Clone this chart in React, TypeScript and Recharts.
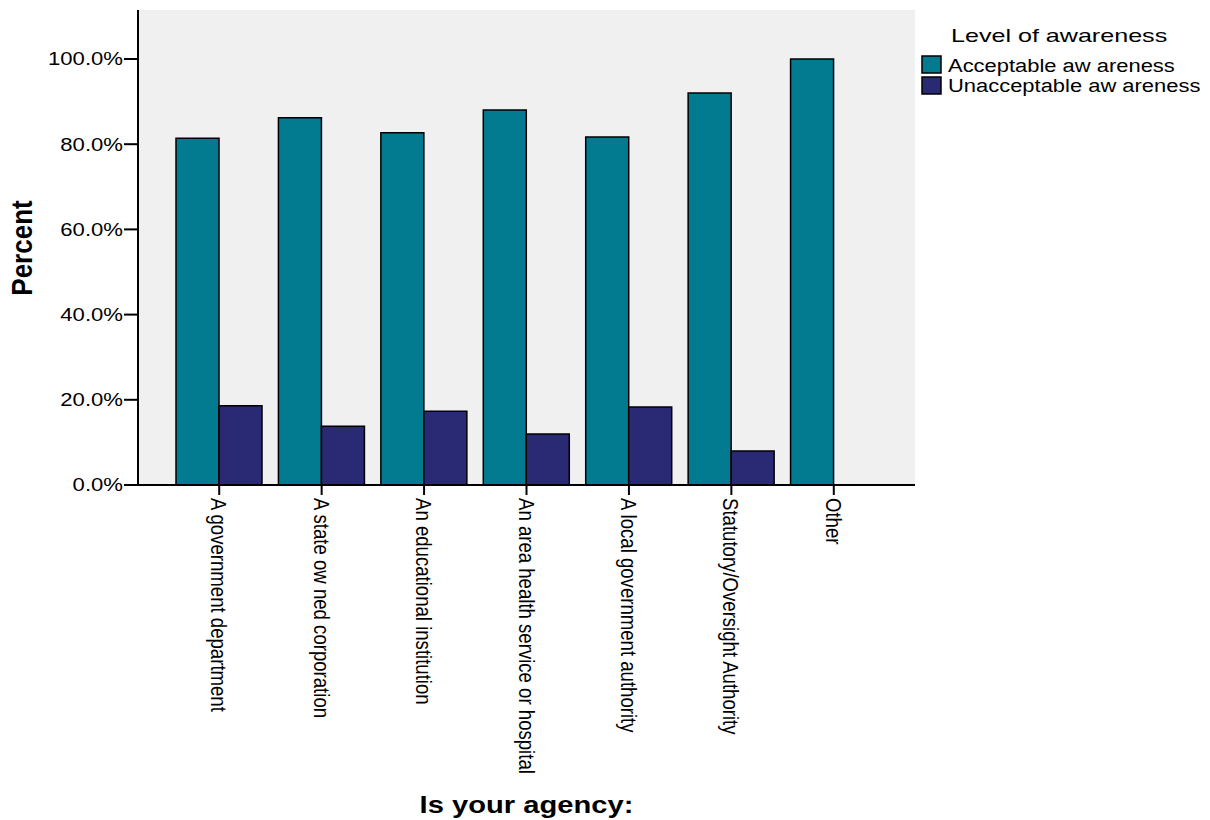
import React from 'react';
import { BarChart, Bar, XAxis, YAxis, CartesianGrid, Legend, Label } from 'recharts';

const categories = [
  'A government department',
  'A state ow ned corporation',
  'An educational institution',
  'An area health service or hospital',
  'A local government authority',
  'Statutory/Oversight Authority',
  'Other',
];
const acceptable = [81.4, 86.2, 82.7, 88.0, 81.7, 92.0, 100];
const unacceptable = [18.6, 13.8, 17.3, 12.0, 18.3, 8.0, 0];
const seriesNames = ['Acceptable aw areness', 'Unacceptable aw areness'];
const seriesColors = ['#027B91', '#2A2A74'];
const yTicks = [0, 20, 40, 60, 80, 100];
const legendTitle = 'Level of awareness';
const xTitle = 'Is your agency:';
const yTitle = 'Percent';

const data = categories.map((c, i) => ({
  category: c,
  acceptable: acceptable[i],
  unacceptable: unacceptable[i],
}));

const FONT = '"Liberation Sans", Arial, Helvetica, sans-serif';

const XTick = (props: any) => {
  const { x, payload } = props;
  return (
    <text
      transform={`translate(${x - 8},498) scale(1.18,1) rotate(90)`}
      x={0}
      y={0}
      textAnchor="start"
      fontFamily={FONT}
      fontSize={18.6}
      fill="#000"
    >
      {payload.value}
    </text>
  );
};

const YTick = (props: any) => {
  const { x, y, payload } = props;
  return (
    <text
      transform={`translate(${x},${y}) scale(1.25,1)`}
      x={0}
      y={0}
      dy="0.36em"
      textAnchor="end"
      fontFamily={FONT}
      fontSize={17.7}
      fill="#000"
    >
      {`${Number(payload.value).toFixed(1)}%`}
    </text>
  );
};

const LegendContent = (props: any) => {
  const payload = props.payload || [];
  const items = seriesNames.map((n, i) => {
    const p = payload.find((q: any) => q.value === n);
    return { name: n, color: p ? p.color : seriesColors[i] };
  });
  return (
    <svg width={1210} height={110} style={{ position: 'absolute', left: 0, top: 0 }}>
      <text
        transform="translate(951,41.7) scale(1.35,1)"
        fontFamily={FONT}
        fontSize={18.6}
        fill="#000"
      >
        {legendTitle}
      </text>
      {items.map((it, i) => (
        <g key={it.name}>
          <rect
            x={922}
            y={56 + i * 21}
            width={19}
            height={17}
            fill={it.color}
            stroke="#000"
            strokeWidth={1.5}
          />
          <text
            transform={`translate(948,${71.7 + i * 20.6}) scale(1.18,1)`}
            fontFamily={FONT}
            fontSize={18.6}
            fill="#000"
          >
            {it.name}
          </text>
        </g>
      ))}
    </svg>
  );
};

export default function App() {
  return (
    <div style={{ position: 'absolute', left: 0, top: 0, width: 1210, height: 820, background: '#fff' }}>
      <BarChart
        width={1210}
        height={820}
        data={data}
        margin={{ top: 10, right: 295, left: 0, bottom: 0 }}
        barGap={0}
        barSize={43}
      >
        <CartesianGrid fill="#F0F0F0" horizontal={false} vertical={false} />
        <XAxis
          dataKey="category"
          height={335}
          interval={0}
          padding={{ left: 30, right: 30 }}
          tickSize={10}
          tickMargin={3}
          axisLine={{ stroke: '#000', strokeWidth: 2 }}
          tickLine={{ stroke: '#000', strokeWidth: 2 }}
          tick={<XTick />}
        >
          <Label
            content={(p: any) => {
              const vb = p.viewBox || { x: 138, width: 777 };
              return (
                <text
                  transform={`translate(${vb.x + vb.width / 2},813) scale(1.24,1)`}
                  textAnchor="middle"
                  fontFamily={FONT}
                  fontWeight="bold"
                  fontSize={23.5}
                  fill="#000"
                >
                  {xTitle}
                </text>
              );
            }}
          />
        </XAxis>
        <XAxis
          xAxisId="top"
          orientation="top"
          dataKey="category"
          height={0}
          tick={false}
          tickLine={false}
          padding={{ left: 30, right: 30 }}
          axisLine={{ stroke: '#000', strokeWidth: 2 }}
        />
        <YAxis
          width={138}
          domain={[0, 111.5]}
          ticks={yTicks}
          interval={0}
          tickSize={14}
          tickMargin={1}
          axisLine={{ stroke: '#000', strokeWidth: 2 }}
          tickLine={{ stroke: '#000', strokeWidth: 2 }}
          tick={<YTick />}
        >
          <Label
            content={() => (
              <text
                transform="translate(32,248) scale(1.1,1) rotate(-90)"
                textAnchor="middle"
                fontFamily={FONT}
                fontWeight="bold"
                fontSize={26}
                fill="#000"
              >
                {yTitle}
              </text>
            )}
          />
        </YAxis>
        <YAxis
          yAxisId="r"
          orientation="right"
          width={0}
          tick={false}
          tickLine={false}
          axisLine={{ stroke: '#000', strokeWidth: 2 }}
        />
        <Legend
          layout="horizontal"
          align="center"
          verticalAlign="middle"
          wrapperStyle={{ position: 'absolute', left: 0, top: 0, width: 1210, height: 110 }}
          content={<LegendContent />}
        />
        <Bar
          dataKey="acceptable"
          name={seriesNames[0]}
          fill={seriesColors[0]}
          stroke="#000"
          strokeWidth={1.5}
          isAnimationActive={false}
        />
        <Bar
          dataKey="unacceptable"
          name={seriesNames[1]}
          fill={seriesColors[1]}
          stroke="#000"
          strokeWidth={1.5}
          isAnimationActive={false}
        />
      </BarChart>
    </div>
  );
}
